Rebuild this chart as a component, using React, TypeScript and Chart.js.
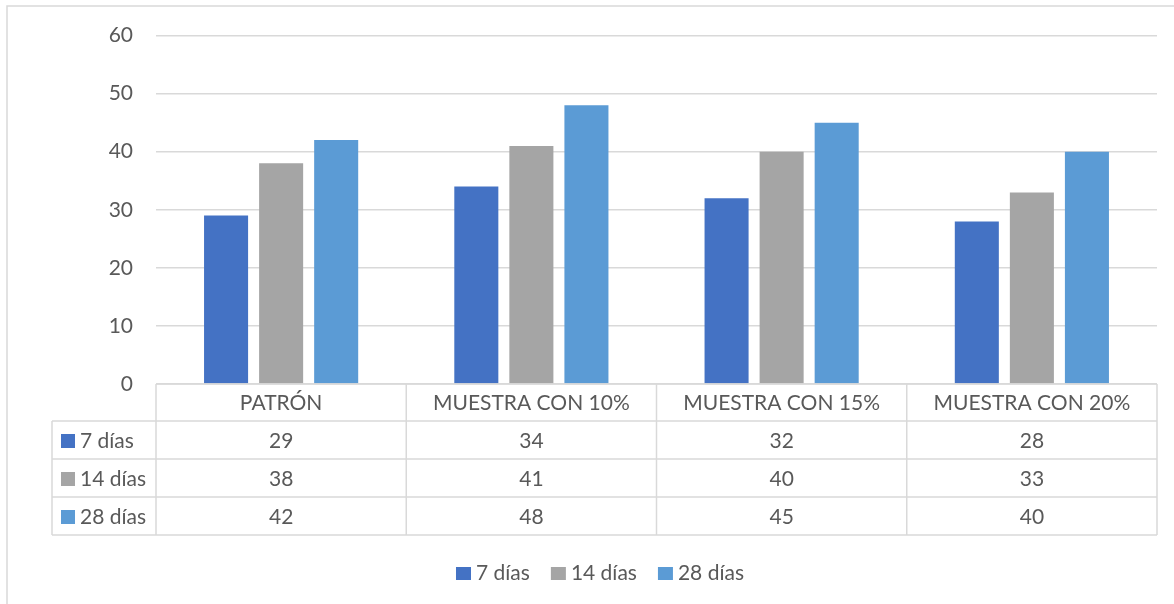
import { useEffect, useRef } from 'react';
import { Chart, registerables } from 'chart.js';

Chart.register(...registerables);

const categories = ['PATRÓN', 'MUESTRA CON 10%', 'MUESTRA CON 15%', 'MUESTRA CON 20%'];
const seriesLabels = ['7 días', '14 días', '28 días'];
const dias7 = [29, 34, 32, 28];
const dias14 = [38, 41, 40, 33];
const dias28 = [42, 48, 45, 40];
const seriesValues = [dias7, dias14, dias28];
const seriesColors = ['#4472C4', '#A5A5A5', '#5B9BD5'];
const yMin = 0;
const yMax = 60;
const yStep = 10;

const FONT = 'Lato, "Open Sans", sans-serif';
const FONT_SIZE = 21;
const TEXT = '#595959';
const LINE = '#d9d9d9';

export default function App() {
  const ref = useRef<HTMLCanvasElement>(null);

  useEffect(() => {
    if (!ref.current) return;

    // Data table under the plot plus the legend row, laid out on the x scale.
    const tablePlugin = {
      id: 'dataTable',
      afterDraw(chart: any) {
        const { ctx, chartArea } = chart;
        const xs = chart.scales.x;
        const left = chartArea.left;
        const right = chartArea.right;
        const colW = (right - left) / categories.length;
        const top = chartArea.bottom;
        const rows = [top, top + 37, top + 75, top + 113, top + 151];
        const labelLeft = 52;

        ctx.save();
        // outer frame
        ctx.strokeStyle = LINE;
        ctx.lineWidth = 1.5;
        ctx.beginPath();
        ctx.moveTo(7, 604);
        ctx.lineTo(7, 6);
        ctx.lineTo(1174, 6);
        ctx.stroke();

        // grid of the table
        ctx.beginPath();
        ctx.moveTo(left, rows[0]);
        ctx.lineTo(right, rows[0]);
        for (let r = 1; r < rows.length; r++) {
          ctx.moveTo(labelLeft, rows[r]);
          ctx.lineTo(right, rows[r]);
        }
        for (let i = 0; i <= categories.length; i++) {
          const x = left + i * colW;
          ctx.moveTo(x, rows[0]);
          ctx.lineTo(x, rows[4]);
        }
        ctx.moveTo(labelLeft, rows[1]);
        ctx.lineTo(labelLeft, rows[4]);
        ctx.stroke();

        ctx.fillStyle = TEXT;
        ctx.font = `${FONT_SIZE}px ${FONT}`;
        ctx.textBaseline = 'middle';
        ctx.textAlign = 'center';
        categories.forEach((c, i) => {
          ctx.fillText(c, xs.getPixelForValue(i), (rows[0] + rows[1]) / 2 + 1);
        });
        seriesLabels.forEach((lab, s) => {
          const cy = (rows[s + 1] + rows[s + 2]) / 2 + 1;
          ctx.fillStyle = seriesColors[s];
          ctx.fillRect(61, cy - 7, 14, 14);
          ctx.fillStyle = TEXT;
          ctx.textAlign = 'left';
          ctx.fillText(lab, 80, cy);
          ctx.textAlign = 'center';
          seriesValues[s].forEach((v, i) => {
            ctx.fillText(String(v), xs.getPixelForValue(i), cy);
          });
        });

        // legend
        const ly = 573;
        const widths = seriesLabels.map((l) => ctx.measureText(l).width);
        const total = widths.reduce((a, w) => a + 15 + 5 + w, 0) + 21 * (seriesLabels.length - 1);
        let lx = 600 - total / 2;
        ctx.textAlign = 'left';
        seriesLabels.forEach((lab, s) => {
          ctx.fillStyle = seriesColors[s];
          ctx.fillRect(lx, ly - 6, 15, 13);
          ctx.fillStyle = TEXT;
          ctx.fillText(lab, lx + 20, ly);
          lx += 15 + 5 + widths[s] + 21;
        });
        ctx.restore();
      },
    };

    const chart = new Chart(ref.current, {
      type: 'bar',
      data: {
        labels: categories,
        datasets: seriesLabels.map((label, s) => ({
          label,
          data: seriesValues[s],
          backgroundColor: seriesColors[s],
          borderWidth: 0,
          barPercentage: 0.8,
          categoryPercentage: 0.66,
        })),
      },
      options: {
        responsive: false,
        animation: false,
        layout: { padding: { top: 35, right: 17, left: 0, bottom: 0 } },
        scales: {
          x: {
            ticks: { display: false },
            grid: { display: false },
            border: { display: false },
            afterFit(s: any) {
              s.height = 220;
            },
          },
          y: {
            min: yMin,
            max: yMax,
            ticks: { stepSize: yStep, color: TEXT, font: { family: FONT, size: FONT_SIZE }, padding: 23 },
            grid: { color: LINE, lineWidth: 1.5, drawTicks: false },
            border: { display: false },
            afterFit(s: any) {
              s.width = 156;
            },
          },
        },
        plugins: {
          legend: { display: false },
          tooltip: { enabled: false },
        },
      },
      plugins: [tablePlugin],
    });
    return () => chart.destroy();
  }, []);

  return (
    <div style={{ position: 'absolute', left: 0, top: 0, width: 1174, height: 604, background: '#fff' }}>
      <canvas ref={ref} width={1174} height={604} style={{ width: 1174, height: 604, display: 'block' }} />
    </div>
  );
}
